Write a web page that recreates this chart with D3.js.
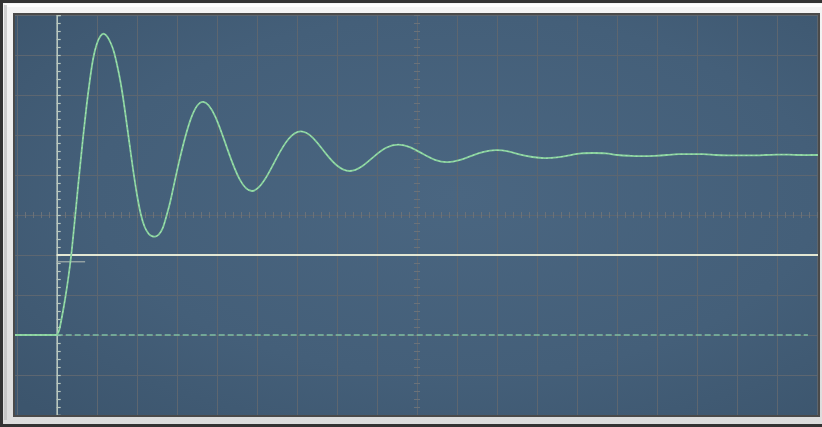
<!DOCTYPE html>
<html>
<head>
<meta charset="utf-8">
<script src="https://cdn.jsdelivr.net/npm/d3@7/dist/d3.min.js"></script>
<style>
  html, body { margin: 0; padding: 0; background: #cfcfcf; }
  svg { display: block; }
</style>
</head>
<body>
<svg id="scope" width="822" height="427"></svg>
<script>
// Oscilloscope capture: step response of an underdamped system.
// Time in ms (1 ms/div), amplitude in V (1 V/div).

const timeDivisions = d3.range(-1, 20);      // vertical grid lines
const voltDivisions = d3.range(-5, 6);       // horizontal grid lines

// Measured channel samples
const traceTime = [
  -1.05, 0, 0.06, 0.13, 0.21, 0.30, 0.38, 0.46, 0.56, 0.66, 0.75, 0.83, 0.91,
  1.00, 1.09, 1.18, 1.27, 1.35, 1.43, 1.51, 1.60, 1.70, 1.80, 1.90, 2.00, 2.10,
  2.20, 2.30, 2.38, 2.46, 2.55, 2.65, 2.745, 2.85, 3.05, 3.355, 3.66, 3.965, 4.27,
  4.575, 4.88, 5.185, 5.49, 5.795, 6.10, 6.405, 6.71, 7.015, 7.32, 7.625, 7.93,
  8.235, 8.54, 8.845, 9.15, 9.455, 9.76, 10.065, 10.37, 10.675, 10.98, 11.285,
  11.59, 11.895, 12.20, 12.505, 12.81, 13.115, 13.42, 13.725, 14.03, 14.335,
  14.64, 14.945, 15.25, 15.555, 15.86, 16.165, 16.47, 16.775, 17.08, 17.385,
  17.69, 17.995, 18.30, 18.605, 18.91, 19.05
];
const traceVolts = [
  -3.00, -3.00, -2.88, -2.55, -2.10, -1.50, -0.85, -0.05, 0.98, 1.95, 2.76, 3.38, 3.90,
  4.27, 4.47, 4.53, 4.45, 4.30, 4.08, 3.75, 3.30, 2.65, 1.92, 1.20, 0.55, 0.03,
  -0.30, -0.47, -0.53, -0.54, -0.49, -0.33, -0.02, 0.38, 1.29, 2.41, 2.83, 2.46, 1.64,
  0.89, 0.60, 0.86, 1.41, 1.90, 2.09, 1.93, 1.56, 1.23, 1.10, 1.21, 1.46,
  1.68, 1.76, 1.69, 1.53, 1.38, 1.32, 1.37, 1.48, 1.58, 1.62, 1.59,
  1.51, 1.45, 1.42, 1.44, 1.49, 1.54, 1.55, 1.54, 1.50, 1.48,
  1.47, 1.48, 1.50, 1.52, 1.52, 1.52, 1.50, 1.49, 1.49, 1.49,
  1.50, 1.51, 1.51, 1.50, 1.50, 1.50
];

// Markers: ground offset (dashed), reference level and its short tag
const groundLevel = -3.0;
const groundSpan = [0, 18.78];
const referenceLevel = -1.0;
const referenceSpan = [0, 19.05];
const referenceTagLevel = -1.17;
const referenceTagSpan = [0, 0.71];

const svg = d3.select("#scope");
const W = 822, H = 427;
const inner = { x0: 15, y0: 15, x1: 818, y1: 415 };

const x = d3.scaleLinear().domain([-1, 19]).range([16.7, 816.7]);
const y = d3.scaleLinear().domain([-5, 5]).range([415, 15]);

const defs = svg.append("defs");

// Bezel
const bezel = defs.append("linearGradient").attr("id", "bezel")
  .attr("x1", 0).attr("y1", 0).attr("x2", 0).attr("y2", 1);
bezel.append("stop").attr("offset", "0%").attr("stop-color", "#f4f4f4");
bezel.append("stop").attr("offset", "100%").attr("stop-color", "#dcdcdc");

const screen = defs.append("radialGradient").attr("id", "screen")
  .attr("cx", "55%").attr("cy", "45%").attr("r", "75%");
screen.append("stop").attr("offset", "0%").attr("stop-color", "#4a6681");
screen.append("stop").attr("offset", "60%").attr("stop-color", "#445f79");
screen.append("stop").attr("offset", "100%").attr("stop-color", "#3c556d");

defs.append("clipPath").attr("id", "clip").append("rect")
  .attr("x", inner.x0).attr("y", inner.y0)
  .attr("width", inner.x1 - inner.x0).attr("height", inner.y1 - inner.y0);

svg.append("rect").attr("x", 0).attr("y", 0).attr("width", W).attr("height", H)
  .attr("fill", "#333333");
svg.append("rect").attr("x", 3).attr("y", 3).attr("width", W - 3).attr("height", H - 6)
  .attr("fill", "url(#bezel)");
svg.append("rect").attr("x", 5).attr("y", 4).attr("width", W - 5).attr("height", 3)
  .attr("fill", "#ffffff").attr("opacity", 0.8);
svg.append("rect").attr("x", 4).attr("y", 5).attr("width", 3).attr("height", H - 12)
  .attr("fill", "#b8b8b8").attr("opacity", 0.6);
svg.append("rect").attr("x", inner.x0 - 2).attr("y", inner.y0 - 2)
  .attr("width", inner.x1 - inner.x0 + 4).attr("height", inner.y1 - inner.y0 + 4)
  .attr("fill", "#4a4a4a");
svg.append("rect").attr("x", inner.x0).attr("y", inner.y0)
  .attr("width", inner.x1 - inner.x0).attr("height", inner.y1 - inner.y0)
  .attr("fill", "url(#screen)");

const plot = svg.append("g").attr("clip-path", "url(#clip)");

// Grid through axes with full-length ticks
const gridColor = "#5d6670";
plot.append("g")
  .attr("transform", `translate(0,${inner.y0})`)
  .call(d3.axisTop(x).tickValues(timeDivisions).tickSize(-(inner.y1 - inner.y0)).tickFormat(""))
  .call(g => g.select(".domain").remove())
  .call(g => g.selectAll("line").attr("stroke", gridColor).attr("stroke-width", 1)
    .attr("shape-rendering", "crispEdges"));
plot.append("g")
  .attr("transform", `translate(${inner.x0},0)`)
  .call(d3.axisLeft(y).tickValues(voltDivisions).tickSize(-(inner.x1 - inner.x0)).tickFormat(""))
  .call(g => g.select(".domain").remove())
  .call(g => g.selectAll("line").attr("stroke", gridColor).attr("stroke-width", 1)
    .attr("shape-rendering", "crispEdges"));

// Minor ticks on the centre axes (5 per division)
const minorT = d3.range(-1, 19.01, 0.2);
const minorV = d3.range(-5, 5.01, 0.2);
plot.append("g")
  .attr("transform", `translate(0,${y(0) + 3})`)
  .call(d3.axisTop(x).tickValues(minorT).tickSize(6).tickFormat(""))
  .call(g => g.select(".domain").remove())
  .call(g => g.selectAll("line").attr("stroke", "#6a727a").attr("shape-rendering", "crispEdges"));
plot.append("g")
  .attr("transform", `translate(${x(9) - 3},0)`)
  .call(d3.axisRight(y).tickValues(minorV).tickSize(6).tickFormat(""))
  .call(g => g.select(".domain").remove())
  .call(g => g.selectAll("line").attr("stroke", "#6a727a").attr("shape-rendering", "crispEdges"));

// Trigger axis at t = 0 with its tick scale
plot.append("g")
  .attr("transform", `translate(${x(0)},0)`)
  .call(d3.axisRight(y).tickValues(minorV).tickSize(4).tickFormat(""))
  .call(g => g.select(".domain").attr("stroke", "#b9c7bf").attr("stroke-width", 1.6))
  .call(g => g.selectAll("line").attr("stroke", "#b9c7bf").attr("stroke-width", 1.2));

const hline = (level, span) => d3.line()(
  [[x(span[0]), y(level)], [x(span[1]), y(level)]]);

// Ground offset marker
plot.append("path").attr("d", hline(groundLevel, groundSpan))
  .attr("stroke", "#7fbfa2").attr("stroke-width", 1.6).attr("fill", "none")
  .attr("stroke-dasharray", "6,3");

// Reference level and tag
plot.append("path").attr("d", hline(referenceTagLevel, referenceTagSpan))
  .attr("stroke", "#aeb8b2").attr("stroke-width", 1.1).attr("fill", "none");
plot.append("path").attr("d", hline(referenceLevel, referenceSpan))
  .attr("stroke", "#e4e8d4").attr("stroke-width", 2).attr("fill", "none");

// Channel trace: flat pre-trigger part, then the smooth response
const pts = traceTime.map((t, i) => [t, traceVolts[i]]);
const preTrigger = pts.filter(d => d[0] <= 0);
const response = pts.filter(d => d[0] >= 0);
const straight = d3.line().x(d => x(d[0])).y(d => y(d[1]));
const smooth = d3.line().x(d => x(d[0])).y(d => y(d[1])).curve(d3.curveNatural);
const traceD = straight(preTrigger) + smooth(response).replace(/^M/, "L");

plot.append("path").attr("d", traceD)
  .attr("stroke", "#86d09c").attr("stroke-width", 1.8).attr("fill", "none")
  .attr("stroke-linejoin", "round");
plot.append("path").attr("d", traceD)
  .attr("stroke", "#c4efcb").attr("stroke-width", 0.9).attr("fill", "none")
  .attr("stroke-dasharray", "2,3").attr("opacity", 0.6);
</script>
</body>
</html>
